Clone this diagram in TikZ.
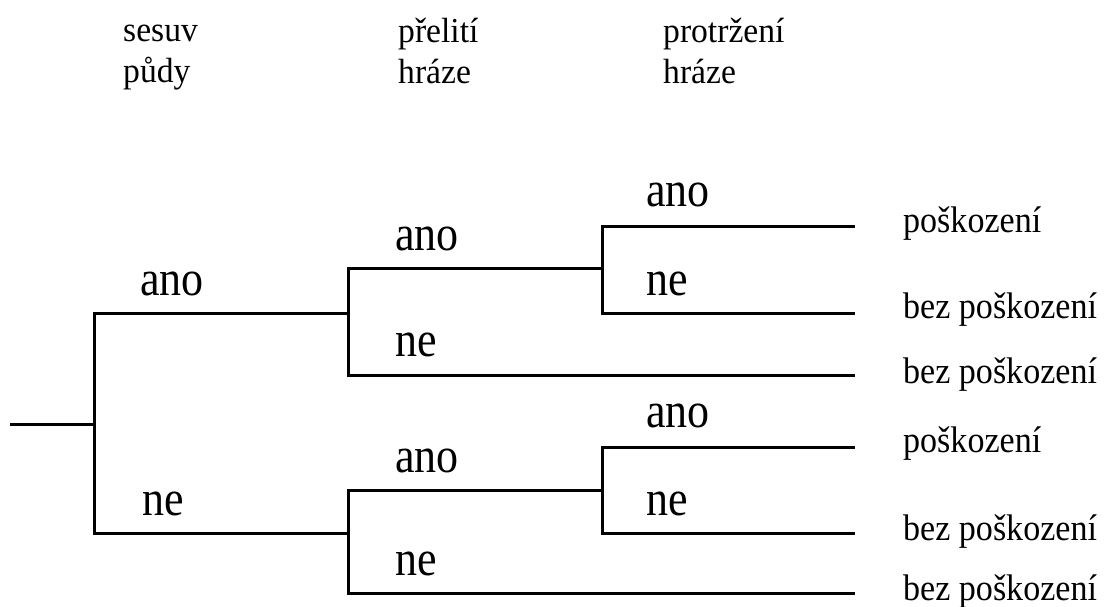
\documentclass[tikz,border=0pt]{standalone}
\usepackage{fontspec}
\setmainfont{Liberation Serif}
\newfontfamily\labfont{Liberation Serif}[FakeStretch=0.88]
\newfontfamily\leaffont{Liberation Serif}[FakeStretch=0.92]
\newfontfamily\headfont{Liberation Serif}[FakeStretch=0.96]
\begin{document}
\begin{tikzpicture}[x=1pt,y=-1pt,
  branch/.style={line width=3pt,line join=miter},
  lab/.style={anchor=base west,inner sep=0pt,font=\labfont\fontsize{50}{56}\selectfont},
  leaf/.style={anchor=base west,inner sep=0pt,font=\leaffont\fontsize{37}{42}\selectfont},
  head/.style={anchor=base west,inner sep=0pt,font=\headfont\fontsize{35}{41}\selectfont}]
\useasboundingbox (0,0) rectangle (1106,606);
% junctions and ends
\coordinate (r0) at (10,424);
\coordinate (j1) at (94,424);
\coordinate (j2u) at (348,313);
\coordinate (j3u) at (602,268);
\coordinate (j2l) at (348,533);
\coordinate (j3l) at (602,490);
\coordinate (e1) at (855,226);
\coordinate (e2) at (855,313);
\coordinate (e3) at (855,375);
\coordinate (e4) at (855,447);
\coordinate (e5) at (855,533);
\coordinate (e6) at (855,593);
% tree
\draw[branch] (r0) -- (j1);
\draw[branch] (j1) |- (j2u);
\draw[branch] (j1) |- (j2l);
\draw[branch] (j2u) |- (j3u);
\draw[branch] (j2u) |- (e3);
\draw[branch] (j3u) |- (e1);
\draw[branch] (j3u) |- (e2);
\draw[branch] (j2l) |- (j3l);
\draw[branch] (j2l) |- (e6);
\draw[branch] (j3l) |- (e4);
\draw[branch] (j3l) |- (e5);
% headers
\node[head] (h1a) at (123,41) {sesuv};
\node[head] (h1b) at (123,82) {půdy};
\node[head] (h2a) at (398,42) {přelití};
\node[head] (h2b) at (398,83) {hráze};
\node[head] (h3a) at (663,42) {protržení};
\node[head] (h3b) at (663,83) {hráze};
% branch labels
\node[lab] (l1a) at (140,295) {ano};
\node[lab] (l1n) at (142,515) {ne};
\node[lab] (l2ua) at (395,250) {ano};
\node[lab] (l2un) at (395,356) {ne};
\node[lab] (l2la) at (395,472) {ano};
\node[lab] (l2ln) at (395,575) {ne};
\node[lab] (l3ua) at (646,206) {ano};
\node[lab] (l3un) at (646,295) {ne};
\node[lab] (l3la) at (646,427) {ano};
\node[lab] (l3ln) at (646,515) {ne};
% outcomes
\node[leaf] (o1) at (903,232) {poškození};
\node[leaf] (o2) at (903,318) {bez poškození};
\node[leaf] (o3) at (903,383) {bez poškození};
\node[leaf] (o4) at (903,452) {poškození};
\node[leaf] (o5) at (903,540) {bez poškození};
\node[leaf] (o6) at (903,600) {bez poškození};
\end{tikzpicture}
\end{document}
